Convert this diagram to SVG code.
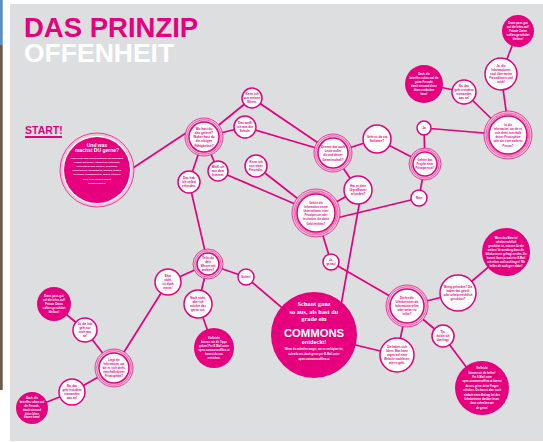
<svg xmlns="http://www.w3.org/2000/svg" width="543" height="443" viewBox="0 0 543 443">
<defs>
<style>
.ln{stroke:#e6007e;stroke-width:1.7;fill:none;stroke-linecap:round}
.nw{fill:#fff;stroke:#e6007e;stroke-width:1.5}
.nf{fill:#e6007e}
.halo{fill:#f3c4da;stroke:#e6007e;stroke-width:0.7}
.ring{fill:none;stroke:#e6007e;stroke-width:0.5}
.tp{fill:#e6007e;font-family:"Liberation Sans",Arial,sans-serif;font-weight:bold;text-anchor:middle}
.tw{fill:#fff;font-family:"Liberation Sans",Arial,sans-serif;font-weight:bold;text-anchor:middle}
.ts{fill:#fff;font-family:"Liberation Serif","Times New Roman",serif;font-weight:bold;text-anchor:middle}
</style>
</defs>
<rect x="0" y="0" width="543" height="443" fill="#ffffff"/>
<rect x="0" y="0" width="2.7" height="45" fill="#5b8fc4"/>
<rect x="0" y="45" width="2.7" height="345" fill="#6b5a47"/>
<rect x="10" y="4" width="533" height="437" fill="#dcdee0"/>
<g id="title">
<text font-family="Liberation Sans, Arial, sans-serif" font-weight="bold"><tspan x="24" y="37" font-size="27.5" fill="#e6007e">DAS PRINZIP</tspan><tspan x="24" y="61.5" font-size="26.5" fill="#ffffff">OFFENHEIT</tspan></text>
</g>
<g id="start">
<text x="25" y="134" font-family="Liberation Sans, Arial, sans-serif" font-weight="bold" font-size="10.5" fill="#e6007e">START!</text>
<rect x="25" y="136" width="37" height="2" fill="#e6007e"/>
</g>
<g id="connectors">
<line class="ln" x1="133" y1="168" x2="192" y2="129"/>
<line class="ln" x1="204" y1="137" x2="252" y2="98"/>
<line class="ln" x1="252" y1="98" x2="333" y2="153"/>
<line class="ln" x1="204" y1="137" x2="245" y2="127"/>
<line class="ln" x1="245" y1="127" x2="333" y2="153"/>
<line class="ln" x1="204" y1="137" x2="218" y2="171"/>
<line class="ln" x1="204" y1="137" x2="189" y2="182"/>
<line class="ln" x1="218" y1="171" x2="316" y2="213"/>
<line class="ln" x1="256" y1="166" x2="316" y2="213"/>
<line class="ln" x1="333" y1="153" x2="377" y2="139"/>
<line class="ln" x1="333" y1="153" x2="358" y2="190"/>
<line class="ln" x1="316" y1="213" x2="358" y2="190"/>
<line class="ln" x1="377" y1="139" x2="425" y2="164"/>
<line class="ln" x1="424" y1="128" x2="425" y2="164"/>
<line class="ln" x1="424" y1="128" x2="508" y2="135"/>
<line class="ln" x1="425" y1="164" x2="419" y2="198"/>
<line class="ln" x1="419" y1="198" x2="320" y2="222"/>
<line class="ln" x1="508" y1="135" x2="464" y2="92"/>
<line class="ln" x1="501" y1="74" x2="508" y2="125"/>
<line class="ln" x1="501" y1="74" x2="518" y2="31"/>
<line class="ln" x1="464" y1="92" x2="424" y2="84"/>
<line class="ln" x1="189" y1="182" x2="208" y2="264"/>
<line class="ln" x1="208" y1="264" x2="168" y2="282"/>
<line class="ln" x1="208" y1="264" x2="246" y2="277"/>
<line class="ln" x1="246" y1="277" x2="314" y2="335"/>
<line class="ln" x1="208" y1="264" x2="198" y2="304"/>
<line class="ln" x1="198" y1="304" x2="214" y2="348"/>
<line class="ln" x1="316" y1="213" x2="331" y2="262"/>
<line class="ln" x1="331" y1="262" x2="407" y2="306"/>
<line class="ln" x1="360" y1="200" x2="336" y2="333"/>
<line class="ln" x1="314" y1="335" x2="397" y2="355"/>
<line class="ln" x1="407" y1="306" x2="458" y2="293"/>
<line class="ln" x1="458" y1="293" x2="506" y2="252"/>
<line class="ln" x1="407" y1="306" x2="443" y2="336"/>
<line class="ln" x1="407" y1="306" x2="397" y2="355"/>
<line class="ln" x1="443" y1="336" x2="482" y2="388"/>
<line class="ln" x1="168" y1="282" x2="114" y2="368"/>
<line class="ln" x1="114" y1="368" x2="85" y2="330"/>
<line class="ln" x1="85" y1="330" x2="54" y2="304"/>
<line class="ln" x1="114" y1="368" x2="72" y2="392"/>
<line class="ln" x1="72" y1="392" x2="32" y2="408"/>
</g>
<g id="n_undwas">
<circle cx="97" cy="170" r="37" class="halo"/>
<circle cx="97" cy="170" r="34.3" fill="#fff"/>
<circle cx="97" cy="170" r="33" class="nf"/>
<text class="tw" font-size="5"><tspan x="97" y="146.5">Und was</tspan><tspan x="97" y="152">machst DU gerne?</tspan></text>
<text class="tw" font-size="2.4"><tspan x="97" y="159">Überleg dir was und beantworte die folgenden</tspan><tspan x="97" y="163.1">Fragen mit deiner Antwort im Hinterkopf.</tspan><tspan x="97" y="167.2">Vielleicht ist das Kochen, schreiben,</tspan><tspan x="97" y="171.3">fotografieren, schwimmen, basteln, tanzen,</tspan><tspan x="97" y="175.4">zeichnen, Fußballspielen, malen, stricken</tspan><tspan x="97" y="179.5">oder Geschichten finden</tspan><tspan x="97" y="183.6">weitererzählen!</tspan></text>
</g>
<g id="n_wohast">
<circle cx="204" cy="137" r="19" class="halo"/>
<circle cx="204" cy="137" r="17.2" class="ring"/>
<circle cx="204" cy="137" r="15" class="nw"/>
<text class="tp" font-size="3.1"><tspan x="204" y="129.5">Wo hast du</tspan><tspan x="204" y="133.8">das gelernt?</tspan><tspan x="204" y="138.1">Woher hast du</tspan><tspan x="204" y="142.4">die nötigen</tspan><tspan x="204" y="146.7">Fähigkeiten?</tspan></text>
</g>
<g id="n_eltern">
<circle cx="252" cy="98" r="10" class="nw"/>
<text class="tp" font-size="3.1"><tspan x="252" y="94.9">Kenn ich</tspan><tspan x="252" y="99.1">von meinen</tspan><tspan x="252" y="103.3">Eltern.</tspan></text>
</g>
<g id="n_schule">
<circle cx="245" cy="127" r="11" class="nw"/>
<text class="tp" font-size="3.1"><tspan x="245" y="123.9">Das weiß</tspan><tspan x="245" y="128.1">ich aus der</tspan><tspan x="245" y="132.3">Schule.</tspan></text>
</g>
<g id="n_internet">
<circle cx="218" cy="171" r="10" class="nw"/>
<text class="tp" font-size="3.1"><tspan x="218" y="167.9">Weiß ich</tspan><tspan x="218" y="172.1">aus dem</tspan><tspan x="218" y="176.3">Internet.</tspan></text>
</g>
<g id="n_freundin">
<circle cx="256" cy="166" r="11" class="nw"/>
<text class="tp" font-size="3.1"><tspan x="256" y="162.9">Kenn ich</tspan><tspan x="256" y="167.1">von einer</tspan><tspan x="256" y="171.3">Freundin.</tspan></text>
</g>
<g id="n_erfunden">
<circle cx="189" cy="182" r="11" class="nw"/>
<text class="tp" font-size="3.1"><tspan x="189" y="178.9">Das hab</tspan><tspan x="189" y="183.1">ich selbst</tspan><tspan x="189" y="187.3">erfunden.</tspan></text>
</g>
<g id="n_kennen">
<circle cx="333" cy="153" r="19" class="halo"/>
<circle cx="333" cy="153" r="17.2" class="ring"/>
<circle cx="333" cy="153" r="15" class="nw"/>
<text class="tp" font-size="2.9"><tspan x="333" y="147.7">Kennen das auch</tspan><tspan x="333" y="152">Leute außer</tspan><tspan x="333" y="156.3">dir und deiner</tspan><tspan x="333" y="160.6">Gemeinschaft?</tspan></text>
</g>
<g id="n_software">
<circle cx="377" cy="139" r="14" class="nw"/>
<text class="tp" font-size="3"><tspan x="377" y="138">Geht es da um</tspan><tspan x="377" y="142.3">Software?</tspan></text>
</g>
<g id="n_ja1">
<circle cx="424" cy="128" r="7" class="nw"/>
<text class="tp" font-size="3.2" x="424" y="129.1">Ja</text>
</g>
<g id="n_projekt">
<circle cx="425" cy="164" r="16" class="halo"/>
<circle cx="425" cy="164" r="14.2" class="ring"/>
<circle cx="425" cy="164" r="12" class="nw"/>
<text class="tp" font-size="2.8"><tspan x="425" y="160.9">Gehört das</tspan><tspan x="425" y="165.1">Projekt einer</tspan><tspan x="425" y="169.3">Privatperson?</tspan></text>
</g>
<g id="n_nein">
<circle cx="419" cy="198" r="8" class="nw"/>
<text class="tp" font-size="3" x="419" y="199.1">Nein</text>
</g>
<g id="n_privat">
<circle cx="508" cy="135" r="24" class="halo"/>
<circle cx="508" cy="135" r="22" class="ring"/>
<circle cx="508" cy="135" r="20.5" class="ring"/>
<circle cx="508" cy="135" r="19" class="nw"/>
<text class="tp" font-size="2.7"><tspan x="508" y="125.5">Ist die</tspan><tspan x="508" y="129.7">Information, um die es</tspan><tspan x="508" y="133.9">sich dreht, innerhalb</tspan><tspan x="508" y="138.1">deiner Privatsphäre</tspan><tspan x="508" y="142.3">oder der einer anderen</tspan><tspan x="508" y="146.5">Person?</tspan></text>
</g>
<g id="n_jainfo">
<circle cx="501" cy="74" r="16" class="nw"/>
<text class="tp" font-size="2.9"><tspan x="501" y="66.6">Ja, die</tspan><tspan x="501" y="70.8">Informationen</tspan><tspan x="501" y="75">sind über meine</tspan><tspan x="501" y="79.2">Freundinnen und</tspan><tspan x="501" y="83.4">mich!</tspan></text>
</g>
<g id="n_passauf1">
<circle cx="518" cy="31" r="16" class="nf"/>
<text class="tw" font-size="2.8"><tspan x="518" y="23.6">Dann pass gut</tspan><tspan x="518" y="27.8">auf die Infos auf!</tspan><tspan x="518" y="32">Private Daten</tspan><tspan x="518" y="36.2">sollten geschützt</tspan><tspan x="518" y="40.4">bleiben!</tspan></text>
</g>
<g id="n_nadas1">
<circle cx="464" cy="92" r="12" class="nw"/>
<text class="tp" font-size="2.9"><tspan x="464" y="87">Na, das</tspan><tspan x="464" y="91">geht trotzdem</tspan><tspan x="464" y="95">niemanden</tspan><tspan x="464" y="99">was an!</tspan></text>
</g>
<g id="n_doch1">
<circle cx="424" cy="84" r="19" class="nf"/>
<text class="tw" font-size="2.6"><tspan x="424" y="75.2">Doch, die</tspan><tspan x="424" y="79.1">betreffen schon mal die</tspan><tspan x="424" y="83">guten Freunde,</tspan><tspan x="424" y="86.9">damit niemand deine</tspan><tspan x="424" y="90.8">Ideen entdecken</tspan><tspan x="424" y="94.7">kann!</tspan></text>
</g>
<g id="n_urgross">
<circle cx="358" cy="190" r="14" class="nw"/>
<text class="tp" font-size="3"><tspan x="358" y="186.9">Hat es dein</tspan><tspan x="358" y="191.1">Urgroßvater</tspan><tspan x="358" y="195.3">erfunden?</tspan></text>
</g>
<g id="n_gehoert">
<circle cx="316" cy="213" r="24" class="halo"/>
<circle cx="316" cy="213" r="22" class="ring"/>
<circle cx="316" cy="213" r="20.5" class="ring"/>
<circle cx="316" cy="213" r="19" class="nw"/>
<text class="tp" font-size="2.7"><tspan x="316" y="203.5">Gehört die</tspan><tspan x="316" y="207.7">Information einem</tspan><tspan x="316" y="211.9">Unternehmen, einer</tspan><tspan x="316" y="216.1">Privatperson oder</tspan><tspan x="316" y="220.3">Institution, die damit</tspan><tspan x="316" y="224.5">Geld verdient?</tspan></text>
</g>
<g id="n_teilst">
<circle cx="208" cy="264" r="15" class="halo"/>
<circle cx="208" cy="264" r="13.2" class="ring"/>
<circle cx="208" cy="264" r="11" class="nw"/>
<text class="tp" font-size="2.8"><tspan x="208" y="259.3">Teilst du</tspan><tspan x="208" y="263.1">dein</tspan><tspan x="208" y="266.9">Wissen mit</tspan><tspan x="208" y="270.7">anderen?</tspan></text>
</g>
<g id="n_sicher">
<circle cx="246" cy="277" r="8" class="nw"/>
<text class="tp" font-size="2.8" x="246" y="278">Sicher!</text>
</g>
<g id="n_genau">
<circle cx="331" cy="262" r="8" class="nw"/>
<text class="tp" font-size="2.8"><tspan x="331" y="261.2">Ja,</tspan><tspan x="331" y="264.8">genau!</tspan></text>
</g>
<g id="n_nochnicht">
<circle cx="198" cy="304" r="14" class="nw"/>
<text class="tp" font-size="2.9"><tspan x="198" y="299">Noch nicht,</tspan><tspan x="198" y="303">aber ich</tspan><tspan x="198" y="307">möchte das</tspan><tspan x="198" y="311">gerne tun.</tspan></text>
</g>
<g id="n_eher">
<circle cx="168" cy="282" r="13" class="nw"/>
<text class="tp" font-size="2.9"><tspan x="168" y="277">Eher</tspan><tspan x="168" y="281">nicht,</tspan><tspan x="168" y="285">ist doch</tspan><tspan x="168" y="289">meins!</tspan></text>
</g>
<g id="n_liegt">
<circle cx="114" cy="368" r="19" class="halo"/>
<circle cx="114" cy="368" r="17.2" class="ring"/>
<circle cx="114" cy="368" r="15" class="nw"/>
<text class="tp" font-size="2.8"><tspan x="114" y="360.8">Liegt die</tspan><tspan x="114" y="364.9">Information, um</tspan><tspan x="114" y="369">die es sich dreht,</tspan><tspan x="114" y="373.1">innerhalb deiner</tspan><tspan x="114" y="377.2">Privatsphäre?</tspan></text>
</g>
<g id="n_jadie">
<circle cx="85" cy="330" r="12" class="nw"/>
<text class="tp" font-size="2.8"><tspan x="85" y="325.2">Ja, die Info</tspan><tspan x="85" y="329.1">geht nur</tspan><tspan x="85" y="333">mich was</tspan><tspan x="85" y="336.9">an!</tspan></text>
</g>
<g id="n_passauf2">
<circle cx="54" cy="304" r="17" class="nf"/>
<text class="tw" font-size="2.8"><tspan x="54" y="296.6">Dann pass gut</tspan><tspan x="54" y="300.8">auf die Infos auf!</tspan><tspan x="54" y="305">Private Daten</tspan><tspan x="54" y="309.2">sollten geschützt</tspan><tspan x="54" y="313.4">bleiben!</tspan></text>
</g>
<g id="n_nadas2">
<circle cx="72" cy="392" r="13" class="nw"/>
<text class="tp" font-size="2.9"><tspan x="72" y="387">Na, das</tspan><tspan x="72" y="391">geht trotzdem</tspan><tspan x="72" y="395">niemanden</tspan><tspan x="72" y="399">was an!</tspan></text>
</g>
<g id="n_doch2">
<circle cx="32" cy="408" r="16" class="nf"/>
<text class="tw" font-size="2.6"><tspan x="32" y="399.4">Doch, die</tspan><tspan x="32" y="403.2">betreffen schon mal</tspan><tspan x="32" y="407">die Freunde,</tspan><tspan x="32" y="410.8">damit niemand</tspan><tspan x="32" y="414.6">deine Ideen</tspan><tspan x="32" y="418.4">klauen kann!</tspan></text>
</g>
<g id="n_vielleicht">
<circle cx="214" cy="348" r="20" class="nf"/>
<text class="tw" font-size="2.7"><tspan x="214" y="339">Vielleicht</tspan><tspan x="214" y="343">können wir dir Tipps</tspan><tspan x="214" y="347">geben! Per E-Mail unter</tspan><tspan x="214" y="351">open.commonsoffline.at</tspan><tspan x="214" y="355">kannst du uns</tspan><tspan x="214" y="359">erreichen.</tspan></text>
</g>
<g id="n_commons">
<circle cx="314" cy="335" r="43" class="nf"/>
<text class="ts" font-size="6.4"><tspan x="314" y="306">Schaut ganz</tspan><tspan x="314" y="313.5">so aus, als hast du</tspan><tspan x="314" y="321">grade ein</tspan></text>
<text class="tw" font-size="11.3" x="314" y="336.5">COMMONS</text>
<text class="tw" font-size="5.5" x="314" y="343.5">entdeckt!</text>
<text class="tw" font-size="2.7"><tspan x="314" y="350">Wenn du mitteilen magst, wo es verfügbar ist,</tspan><tspan x="314" y="355">schreib uns doch gerne per E-Mail unter</tspan><tspan x="314" y="360">open.commonsoffline.at</tspan></text>
</g>
<g id="n_duerfen">
<circle cx="407" cy="306" r="21" class="halo"/>
<circle cx="407" cy="306" r="19.2" class="ring"/>
<circle cx="407" cy="306" r="17" class="nw"/>
<text class="tp" font-size="2.8"><tspan x="407" y="298.6">Dürfen die</tspan><tspan x="407" y="302.8">Urheberinnen die</tspan><tspan x="407" y="307">Information teilen</tspan><tspan x="407" y="311.2">oder weiter zu</tspan><tspan x="407" y="315.4">teilen?</tspan></text>
</g>
<g id="n_gefunden">
<circle cx="458" cy="293" r="18" class="nw"/>
<text class="tp" font-size="2.8"><tspan x="458" y="287.7">Wenig gefunden? Die</tspan><tspan x="458" y="291.9">haben das geteilt</tspan><tspan x="458" y="296.1">oder urheberrechtlich</tspan><tspan x="458" y="300.3">geschützt?</tspan></text>
</g>
<g id="n_urheber">
<circle cx="506" cy="252" r="24" class="nf"/>
<text class="tw" font-size="2.6"><tspan x="506" y="238.9">Wenn das Material</tspan><tspan x="506" y="242.9">urheberrechtlich</tspan><tspan x="506" y="246.9">geschützt ist, müssen für die</tspan><tspan x="506" y="250.9">weitere Verwendung dann die</tspan><tspan x="506" y="254.9">Urheberinnen gefragt werden. Du</tspan><tspan x="506" y="258.9">kannst ihnen ja mal eine E-Mail</tspan><tspan x="506" y="262.9">schreiben und nachfragen! Wir</tspan><tspan x="506" y="266.9">helfen dir auch gern dabei!</tspan></text>
</g>
<g id="n_tja">
<circle cx="443" cy="336" r="11" class="nw"/>
<text class="tp" font-size="2.8"><tspan x="443" y="333">Tja,</tspan><tspan x="443" y="337">da bin ich</tspan><tspan x="443" y="341">überfragt.</tspan></text>
</g>
<g id="n_haben">
<circle cx="397" cy="355" r="17" class="nw"/>
<text class="tp" font-size="2.8"><tspan x="397" y="347.6">Die haben sich</tspan><tspan x="397" y="351.8">Ideen. Man kann</tspan><tspan x="397" y="356">sagen auf einer</tspan><tspan x="397" y="360.2">Website nachlesen,</tspan><tspan x="397" y="364.4">wie es geht.</tspan></text>
</g>
<g id="n_probiert">
<circle cx="482" cy="388" r="27" class="nf"/>
<text class="tw" font-size="2.6"><tspan x="482" y="369.1">Vielleicht</tspan><tspan x="482" y="373.5">können wir dir helfen!</tspan><tspan x="482" y="377.9">Per E-Mail unter</tspan><tspan x="482" y="382.3">open.commonsoffline.at kannst</tspan><tspan x="482" y="386.7">du uns gerne deine Fragen</tspan><tspan x="482" y="391.1">schicken. Du kannst aber auch</tspan><tspan x="482" y="395.5">einfach einen Beitrag bei den</tspan><tspan x="482" y="399.9">Urheberinnen darüber lesen,</tspan><tspan x="482" y="404.3">dann schreiben wir</tspan><tspan x="482" y="408.7">dir gerne!</tspan></text>
</g>
</svg>
